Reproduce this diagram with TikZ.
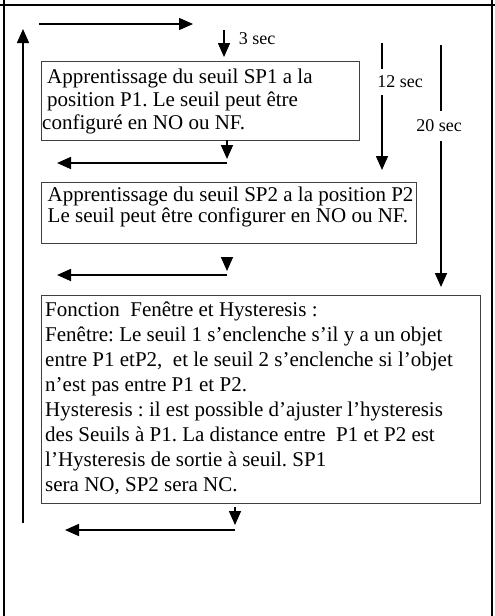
\documentclass[tikz,border=0pt]{standalone}
\usepackage{fontspec}
\setmainfont{Liberation Serif}
\usetikzlibrary{arrows.meta}
\frenchspacing
\begin{document}
\begin{tikzpicture}[x=1pt,y=-1pt,
  arr/.style={line width=1.6pt, -{Triangle[length=14pt,width=12pt]}},
  frameline/.style={line width=2pt},
  boxst/.style={draw=black!75, line width=0.8pt, inner sep=0pt, anchor=north west},
  txt/.style={inner sep=0pt, anchor=base west},
  lbl/.style={font=\fontsize{18}{20}\selectfont, inner sep=0pt}]
\useasboundingbox (0,0) rectangle (495,616);

% outer frame
\draw[frameline] (0,5) -- (495,5);
\draw[frameline] (4,0) -- (4,616);
\draw[frameline] (491.5,0) -- (491.5,616);

% boxes
\node[boxst, minimum width=318pt, minimum height=79pt] (b1) at (41,61) {};
\node[boxst, minimum width=375pt, minimum height=61pt] (b2) at (41,182) {};
\node[boxst, minimum width=439pt, minimum height=208pt] (b3) at (41,295) {};

\node[txt, font=\fontsize{21}{23}\selectfont] (t1) at (42,83) {\parbox[t]{316pt}{\raggedright
\hspace*{5pt}Apprentissage du seuil SP1 a la\\
\hspace*{5pt}position P1. Le seuil peut être\\
configuré en NO ou NF.}};

\node[txt, font=\fontsize{21}{21}\selectfont] (t2) at (47.5,201) {\parbox[t]{368pt}{\raggedright
Apprentissage du seuil SP2 a la position P2\\
Le seuil peut être configurer en NO ou NF.}};

\node[txt, font=\fontsize{21}{25}\selectfont] (t3) at (45,316) {\parbox[t]{434pt}{\raggedright
Fonction\ \ Fenêtre et Hysteresis :\\
Fenêtre: Le seuil 1 s’enclenche s’il y a un objet\\
entre P1 etP2,\ \ et le seuil 2 s’enclenche si l’objet\\
n’est pas entre P1 et P2.\\
Hysteresis : il est possible d’ajuster l’hysteresis\\
des Seuils à P1. La distance entre\ \ P1 et P2 est\\
l’Hysteresis de sortie à seuil. SP1\\
sera NO, SP2 sera NC.}};

% coordinates for connectors
\coordinate (topL) at (39,24);
\coordinate (topR) at (193,24);
\coordinate (s3a) at (224,30);
\coordinate (s3b) at (224,57);
\coordinate (upA) at (23,523);
\coordinate (upB) at (23,29);
\coordinate (d1a) at (227,140);
\coordinate (d1b) at (227,159);
\coordinate (h1a) at (227,163);
\coordinate (h1b) at (57,163);
\coordinate (d2a) at (227,257);
\coordinate (d2b) at (227,271);
\coordinate (h2a) at (227,275);
\coordinate (h2b) at (57,275);
\coordinate (d3a) at (235,507);
\coordinate (d3b) at (235,525);
\coordinate (h3a) at (235,530);
\coordinate (h3b) at (65,530);
\coordinate (c12a) at (382,43);
\coordinate (c12b) at (382,170);
\coordinate (c20a) at (441,45);
\coordinate (c20b) at (441,287);

\draw[arr] (topL) -- (topR);
\draw[arr] (s3a) -- (s3b);
\draw[arr] (upA) -- (upB);
\draw[arr] (d1a) -- (d1b);
\draw[arr] (h1a) -- (h1b);
\draw[arr] (d2a) -- (d2b);
\draw[arr] (h2a) -- (h2b);
\draw[arr] (d3a) -- (d3b);
\draw[arr] (h3a) -- (h3b);
\draw[arr] (c12a) -- (c12b);
\draw[arr] (c20a) -- (c20b);

% labels
\node[lbl] (l3) at (257,39) {3 sec};
\node[lbl, fill=white, inner ysep=7pt, inner xsep=2pt] (l12) at (400,82) {12 sec};
\node[lbl, fill=white, inner ysep=9pt, inner xsep=2pt] (l20) at (439,126) {20 sec};
\end{tikzpicture}
\end{document}
